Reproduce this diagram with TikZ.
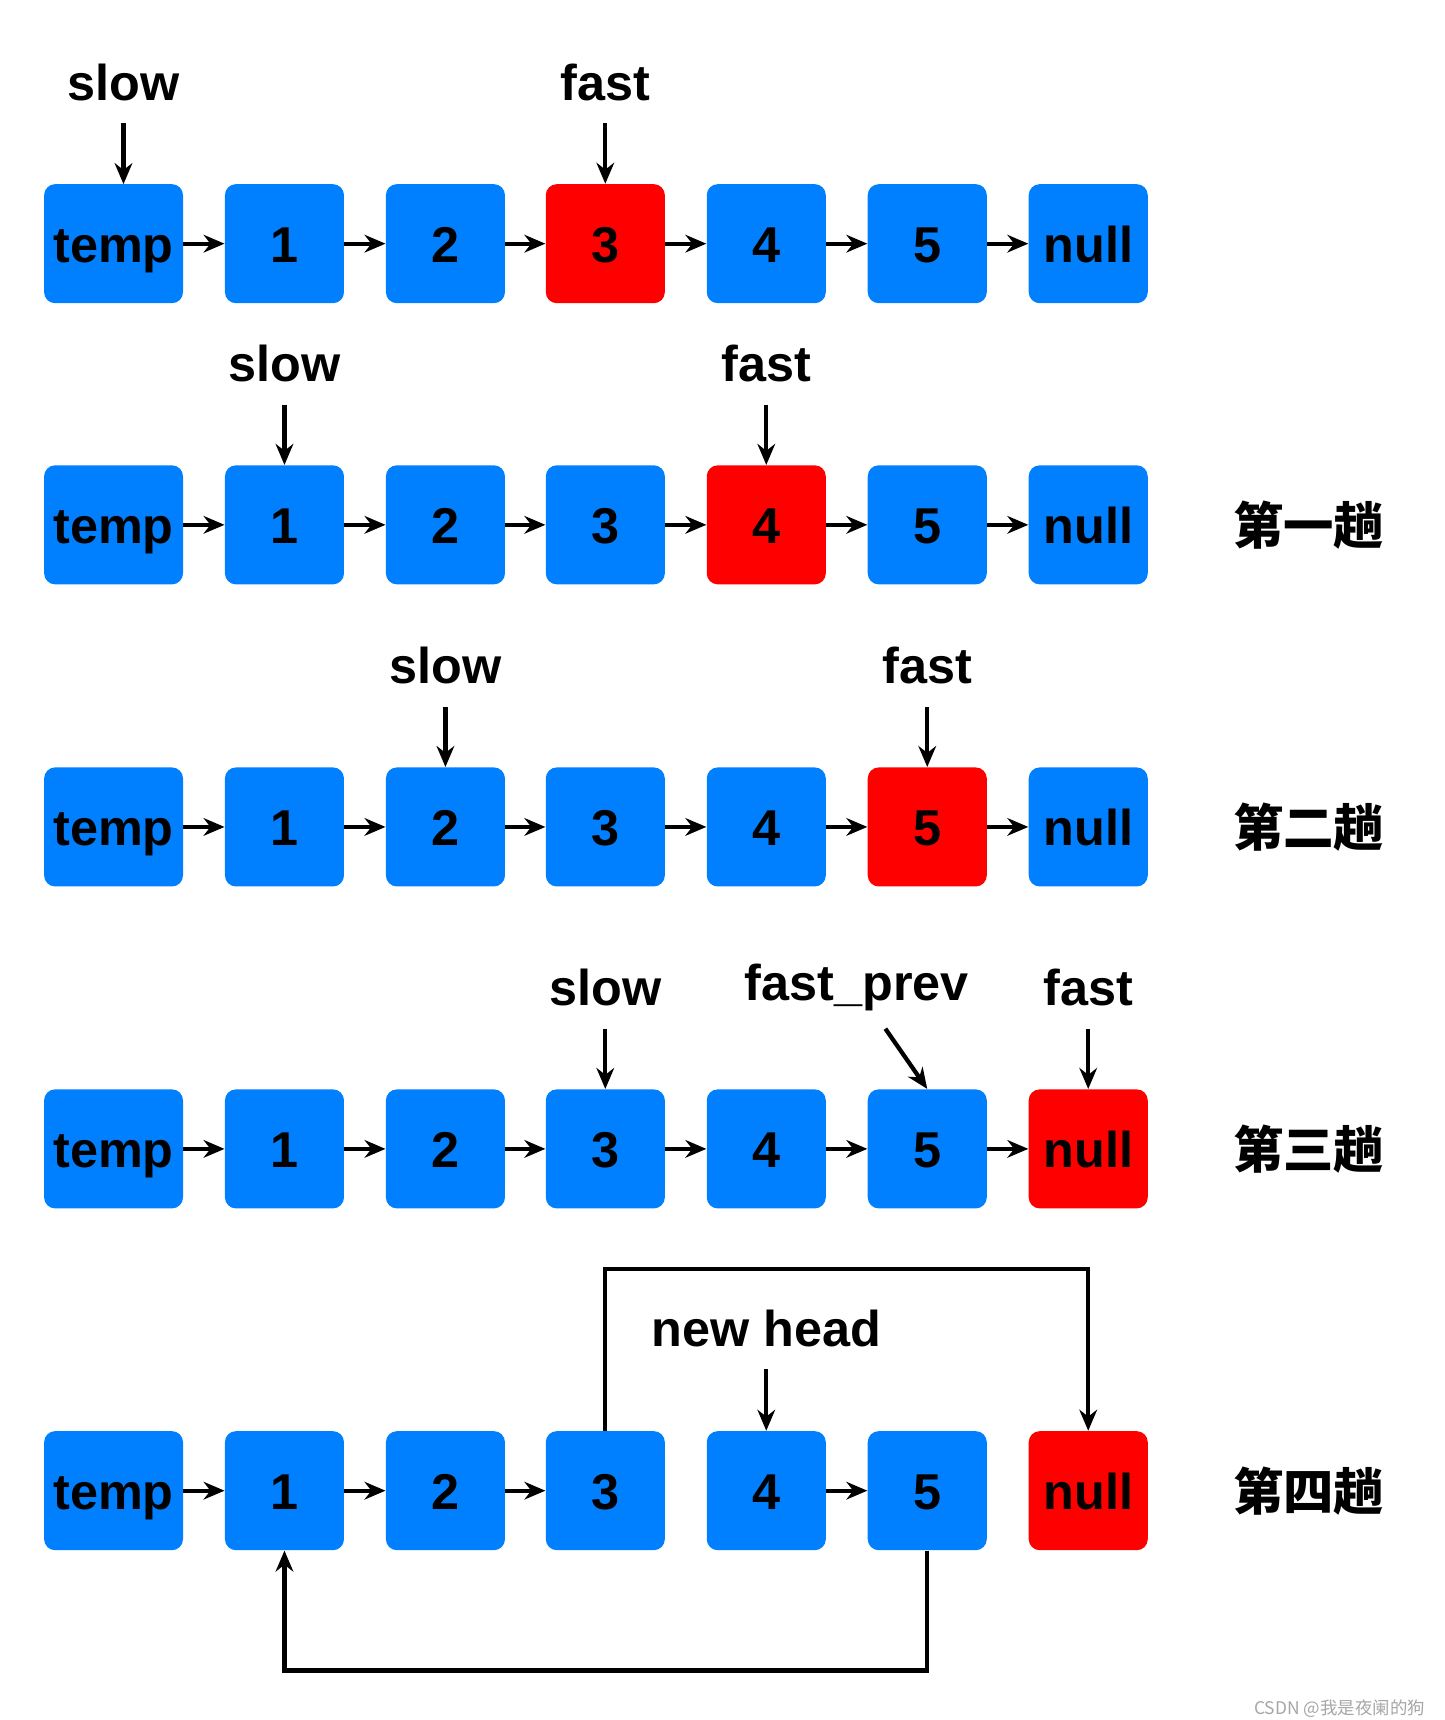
\documentclass[tikz,border=0pt]{standalone}
\usepackage{fontspec}
\setmainfont{Liberation Sans}
\newfontfamily\cjkfont{Noto Sans CJK SC}
\usetikzlibrary{arrows.meta}
\definecolor{nodeblue}{HTML}{007FFF}
\definecolor{nodered}{HTML}{FF0000}
\tikzset{
  box/.style={fill=nodeblue, rounded corners=0.2cm, minimum width=2.16cm, minimum height=2.16cm, inner sep=0pt, text height=19pt, text depth=0pt, font=\fontsize{26}{26}\selectfont\bfseries},
  redbox/.style={box, fill=nodered},
  lbl/.style={font=\fontsize{26}{26}\selectfont\bfseries, inner sep=0pt},
  cjk/.style={font=\cjkfont\fontsize{26}{26}\selectfont\bfseries, inner sep=0pt},
  link/.style={-{Stealth[length=0.38cm,width=0.32cm]}, line width=2.2pt},
}
\begin{document}
\begin{tikzpicture}[x=0.02cm, y=-0.02cm]
        \useasboundingbox (0,0) rectangle (1310,1560);
        % the five lists, red node given per row
        \foreach \r/\y/\red in {1/221/3, 2/476/4, 3/750/5, 4/1042/6, 5/1352/6} {
          \node[box, minimum width=2.52cm] (r\r n0) at (103,\y) {temp};
          \foreach \i/\x/\t in {1/258/1, 2/404/2, 3/549/3, 4/695/4, 5/841/5, 6/987/null} {
            \ifnum\i=\red
              \node[redbox] (r\r n\i) at (\x,\y) {\t};
            \else
              \node[box] (r\r n\i) at (\x,\y) {\t};
            \fi
          }
        }
        % links between neighbours
        \foreach \r in {1,2,3,4} {
          \foreach \i [evaluate=\i as \j using int(\i+1)] in {0,...,5}
            \draw[link] (r\r n\i) -- (r\r n\j);
        }
        \foreach \i/\j in {0/1, 1/2, 2/3, 4/5}
          \draw[link] (r5n\i) -- (r5n\j);
        % pointer labels
        \node[lbl] (slow1) at (112,75) {slow};
        \node[lbl] (fast1) at (549,75) {fast};
        \node[lbl] (slow2) at (258,330) {slow};
        \node[lbl] (fast2) at (695,330) {fast};
        \node[lbl] (slow3) at (404,604) {slow};
        \node[lbl] (fast3) at (841,604) {fast};
        \node[lbl] (slow4) at (549,896) {slow};
        \node[lbl] (prev4) at (777,896) {fast\_prev};
        \node[lbl] (fast4) at (987,896) {fast};
        \node[lbl] (head5) at (695,1205) {new head};
        \coordinate (s1) at (112,112);
        \coordinate (f1) at (549,112);
        \coordinate (s2) at (258,367);
        \coordinate (f2) at (695,367);
        \coordinate (s3) at (404,641);
        \coordinate (f3) at (841,641);
        \coordinate (s4) at (549,933);
        \coordinate (p4) at (803,933);
        \coordinate (f4) at (987,933);
        \coordinate (h5) at (695,1242);
        \draw[link] (s1) -- (112,167);
        \draw[link] (f1) -- (r1n3.north);
        \draw[link] (s2) -- (r2n1.north);
        \draw[link] (f2) -- (r2n4.north);
        \draw[link] (s3) -- (r3n2.north);
        \draw[link] (f3) -- (r3n5.north);
        \draw[link] (s4) -- (r4n3.north);
        \draw[link] (p4) -- (r4n5.north);
        \draw[link] (f4) -- (r4n6.north);
        \draw[link] (h5) -- (r5n4.north);
        % relinking in the last row
        \draw[link] (r5n3.north) |- (549,1151) -| (r5n6.north);
        \draw[link] (r5n5.south) |- (258,1515) -- (r5n1.south);
        % round names
        \node[cjk] (t1) at (1187,476) {第一趟};
        \node[cjk] (t2) at (1187,750) {第二趟};
        \node[cjk] (t3) at (1187,1042) {第三趟};
        \node[cjk] (t4) at (1187,1352) {第四趟};
        \node[font=\cjkfont\fontsize{9}{9}\selectfont, text=gray!70, inner sep=0pt] (mark) at (1215,1550) {CSDN @我是夜阑的狗};
\end{tikzpicture}
\end{document}
